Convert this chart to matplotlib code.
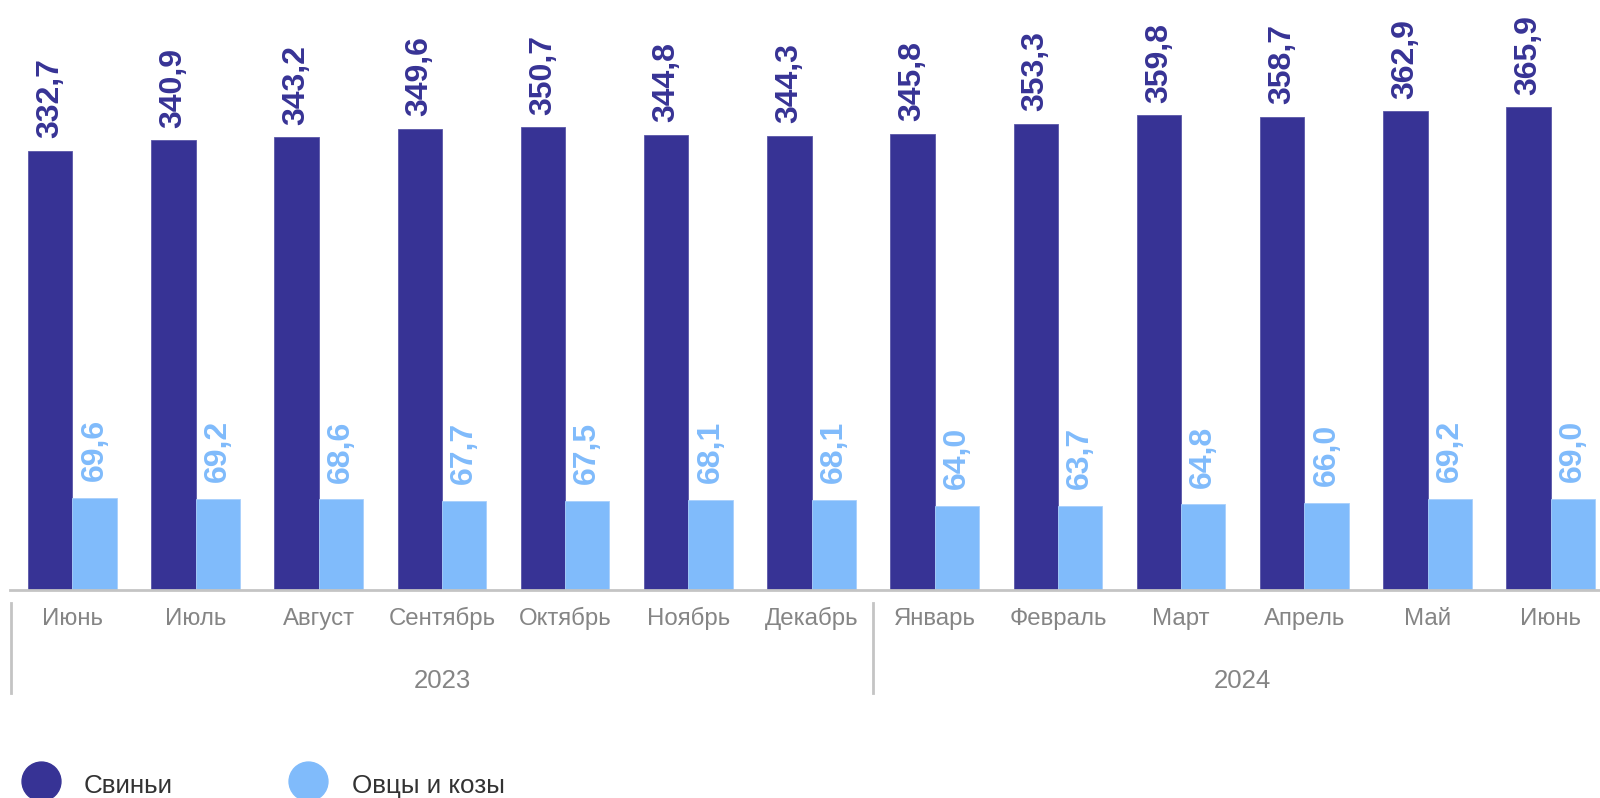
import matplotlib.pyplot as plt
from matplotlib.lines import Line2D
import numpy as np

plt.rcParams['font.family'] = ['Liberation Sans', 'DejaVu Sans']

months = ['Июнь', 'Июль', 'Август', 'Сентябрь', 'Октябрь', 'Ноябрь', 'Декабрь',
          'Январь', 'Февраль', 'Март', 'Апрель', 'Май', 'Июнь']
pigs = [332.7, 340.9, 343.2, 349.6, 350.7, 344.8, 344.3, 345.8, 353.3, 359.8, 358.7, 362.9, 365.9]
sheep = [69.6, 69.2, 68.6, 67.7, 67.5, 68.1, 68.1, 64.0, 63.7, 64.8, 66.0, 69.2, 69.0]
years = ['2023', '2024']
year_spans = [(0, 6), (7, 12)]

dark = '#373395'
light = '#80bbfb'
grey = '#c4c4c4'

W, H = 1600, 798
fig = plt.figure(figsize=(16, 7.98), dpi=100)
ax = fig.add_axes([10 / W, 1 - 590 / H, 1590 / W, 590 / H])

x = np.arange(len(months))
bw = 0.36
b1 = ax.bar(x - bw / 2, pigs, bw, color=dark, edgecolor='#5a57a8', linewidth=0.6)
b2 = ax.bar(x + bw / 2, sheep, bw, color=light, edgecolor='#a8d0fc', linewidth=0.6)

def fmt(v):
    return f'{v:.1f}'.replace('.', ',')

for xi, v in zip(x, pigs):
    ax.annotate(fmt(v), (xi - bw / 2, v), xytext=(0, 9), textcoords='offset points',
                rotation=90, ha='center', va='bottom', fontsize=23, fontweight='bold',
                color=dark)
for xi, v in zip(x, sheep):
    ax.annotate(fmt(v), (xi + bw / 2, v), xytext=(0, 12), textcoords='offset points',
                rotation=90, ha='center', va='bottom', fontsize=23, fontweight='bold',
                color=light)

ax.set_xlim(-0.506, 12.4)
ax.set_ylim(0, 447)
for s in ['top', 'right', 'left']:
    ax.spines[s].set_visible(False)
ax.spines['bottom'].set_color(grey)
ax.spines['bottom'].set_linewidth(2)
ax.set_yticks([])
ax.set_xticks([])

trans = ax.get_xaxis_transform()
for xi, m in zip(x, months):
    ax.text(xi, -0.049, m, transform=trans, ha='center', va='center',
            fontsize=17.3, color='#858585')

for yr, (a, b) in zip(years, year_spans):
    ax.text((a + b) / 2, -0.154, yr, transform=trans, ha='center', va='center',
            fontsize=18.5, color='#858585')

for sep in [-0.5, 6.5]:
    ax.add_line(Line2D([sep, sep], [-0.022, -0.175], transform=trans, color=grey,
                       linewidth=2, clip_on=False))

# legend
lax = fig.add_axes([0, 0, 1, 1])
lax.set_xlim(0, W)
lax.set_ylim(H, 0)
lax.axis('off')
lax.scatter([41], [781], s=784, color=dark)
lax.text(84, 786, 'Свиньи', fontsize=18.7, color='#333333', va='center')
lax.scatter([308], [781], s=784, color=light)
lax.text(352, 786, 'Овцы и козы', fontsize=18.7, color='#333333', va='center')

fig.savefig('out.png', dpi=100)
